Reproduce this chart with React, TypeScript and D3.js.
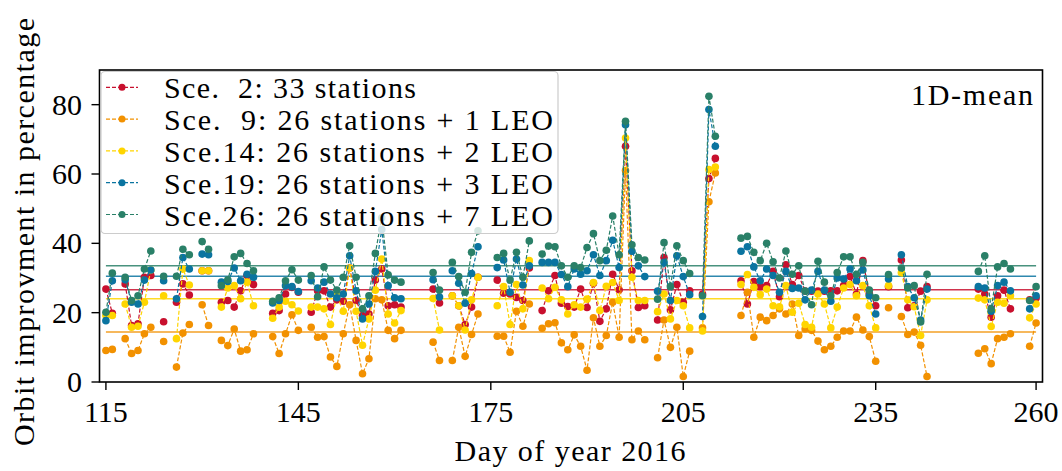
import React from 'react';
import * as d3 from 'd3';

// Day of year (missing days are gaps in the series)
const days = [
  115, 116, 118, 119, 120, 121, 122, 124, 126, 127, 128, 130, 131, 133, 134, 135, 136, 137, 138,
  141, 142, 143, 144, 145, 147, 148, 149, 150, 151, 152, 153, 154, 155, 156, 157, 158, 159, 160, 161,
  166, 167, 169, 170, 171, 172, 173, 176, 177, 178, 179, 180, 181, 183, 184, 185, 186, 187, 188, 189,
  190, 191, 192, 193, 194, 195, 196, 197, 198, 199, 201, 202, 203, 204, 205, 206, 208, 209, 210,
  214, 215, 216, 217, 218, 219, 220, 221, 222, 223, 224, 225, 226, 227, 228, 229, 230, 231, 232, 233,
  234, 235, 237, 239, 240, 241, 242, 243, 251, 252, 253, 254, 255, 256, 259, 260,
];

const sce2 = [
  26.8, 19.8, 28.3, 16.3, 16.8, 30.2, 30.7, 17.4, 23.0, 28.3, 25.1, 32.1, 32.1, 23.0, 23.5, 21.6, 26.3, 30.7, 28.1,
  19.8, 20.6, 25.4, 27.3, 25.9, 20.1, 26.3, 26.3, 21.6, 23.7, 23.3, 32.9, 23.5, 19.2, 19.6, 29.4, 32.6, 22.0, 22.3, 21.6,
  26.8, 22.8, 24.9, 22.0, 16.6, 21.6, 30.2, 29.4, 25.6, 25.4, 24.4, 23.5, 32.9, 20.6, 26.3, 30.7, 22.7, 21.8, 21.6, 26.8,
  21.5, 28.5, 17.5, 21.1, 31.1, 26.6, 68.0, 32.1, 21.5, 22.0, 17.9, 35.9, 20.8, 28.1, 23.0, 26.3, 25.4, 58.7, 64.5,
  29.2, 22.5, 29.0, 27.5, 27.8, 31.9, 24.6, 33.8, 28.1, 30.7, 26.2, 26.2, 26.2, 26.2, 26.3, 26.3, 27.8, 30.4, 25.4, 35.0,
  25.5, 22.0, 27.5, 35.2, 21.4, 22.0, 26.2, 27.5, 26.8, 25.4, 18.7, 24.9, 26.5, 21.1, 23.7, 24.2,
];

const sce9 = [
  9.1, 9.4, 12.5, 8.2, 9.1, 13.9, 15.8, 11.7, 4.3, 14.1, 16.6, 22.3, 16.3, 12.0, 10.5, 15.3, 8.9, 9.3, 13.9,
  13.1, 8.2, 13.9, 19.4, 14.9, 15.8, 12.9, 13.1, 7.2, 4.5, 13.9, 22.3, 12.0, 2.4, 6.7, 24.0, 23.7, 14.9, 12.5, 14.9,
  11.5, 6.2, 6.2, 15.8, 7.4, 13.7, 19.6, 13.2, 13.2, 8.6, 20.4, 16.1, 22.5, 15.5, 16.8, 17.1, 11.3, 9.3, 13.6, 10.3,
  3.4, 18.5, 10.3, 13.4, 23.0, 12.9, 61.0, 12.2, 14.7, 12.2, 7.0, 17.9, 10.0, 15.8, 1.6, 8.9, 15.6, 52.0, 60.3,
  19.2, 25.9, 12.9, 18.7, 17.7, 19.2, 21.1, 19.6, 22.5, 13.4, 15.3, 14.9, 11.8, 9.3, 10.3, 12.9, 14.7, 14.7, 18.7, 15.0,
  13.1, 6.0, 21.4, 18.9, 13.7, 14.4, 10.6, 1.6, 8.3, 9.6, 5.3, 12.5, 12.9, 13.9, 10.3, 17.0,
];

const sce14 = [
  19.2, 19.2, 22.5, 15.8, 16.1, 23.0, 32.3, 24.9, 12.5, 32.6, 28.0, 32.1, 32.1, 21.6, 27.1, 27.8, 24.0, 28.8, 22.0,
  18.4, 21.6, 23.3, 22.3, 20.5, 21.6, 21.6, 21.1, 16.6, 24.9, 20.4, 32.9, 20.4, 10.6, 18.2, 26.5, 35.5, 19.6, 17.0, 20.6,
  24.1, 15.0, 24.9, 22.0, 15.0, 23.7, 30.2, 22.0, 27.5, 16.6, 28.1, 21.1, 35.0, 27.1, 24.0, 27.3, 23.7, 19.6, 22.3, 21.6,
  23.9, 28.7, 20.6, 27.6, 28.7, 23.5, 70.4, 30.2, 23.5, 23.5, 20.3, 25.4, 18.2, 23.5, 22.0, 15.6, 14.7, 61.3, 62.0,
  28.1, 31.0, 27.3, 25.2, 26.8, 22.0, 21.7, 27.8, 20.1, 22.7, 16.6, 15.8, 25.4, 22.5, 15.6, 21.6, 27.1, 28.1, 24.9, 27.8,
  22.0, 15.6, 27.8, 31.5, 23.7, 21.7, 13.4, 23.7, 24.2, 23.7, 16.0, 23.0, 22.7, 24.9, 18.5, 22.5,
];

const sce19 = [
  17.7, 29.2, 29.5, 23.0, 22.5, 29.4, 32.3, 29.2, 24.0, 35.9, 32.6, 36.9, 36.7, 28.8, 29.0, 32.9, 29.2, 31.1, 30.2,
  22.8, 23.5, 27.8, 27.5, 26.1, 29.2, 27.1, 28.8, 25.4, 24.3, 25.4, 36.4, 26.3, 18.2, 22.5, 31.9, 44.0, 27.8, 24.3, 24.0,
  29.5, 24.5, 32.1, 28.5, 22.7, 31.3, 39.0, 33.0, 35.2, 25.9, 35.5, 28.0, 33.5, 34.5, 34.5, 34.5, 31.0, 27.5, 32.6, 31.1,
  32.1, 36.7, 30.7, 35.0, 40.9, 33.0, 74.2, 37.7, 33.5, 30.4, 26.2, 34.5, 23.5, 36.4, 30.4, 25.2, 18.9, 78.6, 68.0,
  37.7, 39.0, 33.2, 29.2, 32.6, 30.7, 25.9, 31.9, 27.0, 27.1, 23.7, 26.5, 31.9, 26.5, 23.3, 30.0, 29.7, 32.6, 29.2, 32.3,
  24.9, 19.6, 29.7, 36.7, 27.5, 24.3, 17.9, 26.8, 27.5, 27.1, 20.4, 27.8, 28.8, 26.3, 21.1, 24.9,
];

const sce26 = [
  20.1, 31.4, 30.2, 23.5, 24.9, 32.6, 37.8, 30.5, 30.5, 38.3, 36.7, 40.5, 38.3, 27.8, 29.5, 36.1, 37.1, 34.2, 32.1,
  23.3, 24.3, 29.2, 32.4, 29.4, 30.7, 24.6, 33.2, 29.4, 26.5, 30.2, 39.3, 30.2, 21.1, 24.9, 37.1, 47.4, 30.9, 29.4, 28.8,
  31.6, 26.5, 34.5, 30.4, 25.9, 37.4, 43.6, 35.9, 37.1, 29.4, 37.4, 30.2, 40.7, 36.9, 39.2, 39.0, 33.5, 30.2, 33.5, 33.0,
  38.8, 42.8, 35.0, 38.0, 47.9, 36.7, 75.2, 39.6, 35.9, 35.2, 23.9, 40.2, 27.5, 39.3, 35.0, 31.3, 24.9, 82.4, 70.9,
  41.5, 42.0, 37.4, 35.0, 40.0, 34.7, 30.0, 37.8, 31.1, 33.5, 26.2, 22.3, 34.8, 28.8, 24.9, 31.6, 36.1, 36.1, 31.1, 34.5,
  26.5, 24.3, 31.0, 32.9, 27.1, 27.8, 17.3, 31.1, 31.9, 36.4, 21.1, 33.2, 34.2, 32.6, 23.5, 27.5,
];

// Mean improvement per scenario (horizontal lines)
const means = [26.6, 14.4, 24.0, 30.5, 33.5];

const labels = [
  'Sce.  2: 33 stations',
  'Sce.  9: 26 stations + 1 LEO',
  'Sce.14: 26 stations + 2 LEO',
  'Sce.19: 26 stations + 3 LEO',
  'Sce.26: 26 stations + 7 LEO',
];

const colors = ['#c8102e', '#f29100', '#ffd500', '#0a74a0', '#2a8068'];

const xTicks = [115, 145, 175, 205, 235, 260];
const yTicks = [0, 20, 40, 60, 80];

const FONT = "'Liberation Serif', 'Times New Roman', serif";

function segmentsOf(vals: number[]): [number, number][][] {
  const segs: [number, number][][] = [];
  let cur: [number, number][] = [];
  days.forEach((d, i) => {
    if (cur.length && d - cur[cur.length - 1][0] > 1) {
      segs.push(cur);
      cur = [];
    }
    cur.push([d, vals[i]]);
  });
  if (cur.length) segs.push(cur);
  return segs;
}

export default function App() {
  const W = 1062;
  const H = 471;
  const left = 99.5, right = 1042.5, top = 70, bottom = 382;
  const x = d3.scaleLinear().domain([114, 261]).range([left, right]);
  const y = d3.scaleLinear().domain([0, 90]).range([bottom, top]);
  const series = [sce2, sce9, sce14, sce19, sce26];
  const line = d3.line<[number, number]>().x(d => x(d[0])).y(d => y(d[1]));

  const legX = 101, legY = 71.5, legW = 457, legH = 162;
  const rowY = (i: number) => 87.3 + i * 31.8;

  return (
    <svg width={W} height={H} style={{ position: 'absolute', left: 0, top: 0, background: '#fff' }}
      fontFamily={FONT}>
      <defs>
        <clipPath id="plotclip">
          <rect x={left} y={top} width={right - left} height={bottom - top} />
        </clipPath>
      </defs>
      <g clipPath="url(#plotclip)">
        {means.map((m, i) => (
          <line key={'m' + i} x1={x(115)} x2={x(260)} y1={y(m)} y2={y(m)}
            stroke={colors[i]} strokeWidth={1.5} opacity={0.85} />
        ))}
        {series.map((vals, si) => (
          <g key={'s' + si}>
            {segmentsOf(vals).map((seg, k) => (
              <path key={k} d={line(seg) || ''} fill="none" stroke={colors[si]}
                strokeWidth={1.2} strokeDasharray="4,2" />
            ))}
            {vals.map((v, i) => (
              <circle key={i} cx={x(days[i])} cy={y(v)} r={3.8} fill={colors[si]} />
            ))}
          </g>
        ))}
      </g>

      {/* frame */}
      <rect x={left} y={top} width={right - left} height={bottom - top} fill="none" stroke="#000" strokeWidth={1.6} />

      {/* x axis */}
      {xTicks.map(t => (
        <g key={'xt' + t}>
          <line x1={x(t)} x2={x(t)} y1={bottom} y2={bottom + 8} stroke="#000" strokeWidth={1.4} />
          <text x={x(t)} y={422} fontSize={30} textAnchor="middle" fill="#000">{t}</text>
        </g>
      ))}
      {/* y axis */}
      {yTicks.map(t => (
        <g key={'yt' + t}>
          <line x1={left - 8} x2={left} y1={y(t)} y2={y(t)} stroke="#000" strokeWidth={1.4} />
          <text x={82} y={y(t) + 10} fontSize={30} textAnchor="end" fill="#000">{t}</text>
        </g>
      ))}

      <text x={570} y={461} fontSize={30} textAnchor="middle" fill="#000" textLength={231} lengthAdjust="spacing">Day of year 2016</text>
      <text transform={`translate(34,232) rotate(-90)`} fontSize={30} textAnchor="middle" fill="#000"
        textLength={428} lengthAdjust="spacing">Orbit improvment in percentage</text>

      <text x={1033} y={105} fontSize={30} textAnchor="end" fill="#000" textLength={122} lengthAdjust="spacing">1D-mean</text>

      {/* legend */}
      <rect x={legX} y={legY} width={legW} height={legH} rx={4} ry={4} fill="#fff" fillOpacity={0.8}
        stroke="#cccccc" strokeWidth={1.2} />
      {labels.map((lab, i) => (
        <g key={'lg' + i}>
          <line x1={106} x2={138} y1={rowY(i)} y2={rowY(i)} stroke={colors[i]} strokeWidth={1.2} strokeDasharray="4,2" />
          <circle cx={122} cy={rowY(i)} r={3.5} fill={colors[i]} />
          <text x={164} y={rowY(i) + 11} fontSize={30} fill="#000" xmlSpace="preserve"
            textLength={i === 0 ? 252 : 389} lengthAdjust="spacing">{lab}</text>
        </g>
      ))}
    </svg>
  );
}
